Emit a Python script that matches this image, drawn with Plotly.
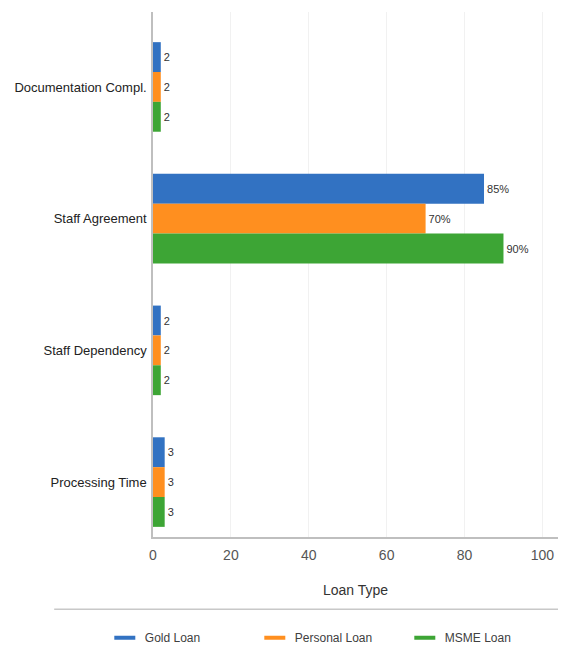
import plotly.graph_objects as go

# Survey factors (y categories, top to bottom) and loan-type series
categories = ["Documentation Compl.", "Staff Agreement", "Staff Dependency", "Processing Time"]
units = ["", "%", "", ""]
gold_loan = [2, 85, 2, 3]
personal_loan = [2, 70, 2, 3]
msme_loan = [2, 90, 2, 3]

series = [
    ("Gold Loan", gold_loan, "#3272C2"),
    ("Personal Loan", personal_loan, "#FF8F1F"),
    ("MSME Loan", msme_loan, "#3DA535"),
]

FONT = "Liberation Sans, Arial, sans-serif"

fig = go.Figure()
for name, vals, color in series:
    labels = [f"{v}{u}" for v, u in zip(vals, units)]
    fig.add_trace(go.Bar(
        name=name, y=categories, x=vals, orientation="h",
        marker=dict(color=color, line=dict(width=0)),
        text=labels, textposition="outside",
        textfont=dict(family=FONT, size=11, color="#333333"),
        cliponaxis=False, showlegend=False,
    ))
    # legend entry drawn as a short dash
    fig.add_trace(go.Scatter(
        name=name, x=[None], y=[None], mode="markers",
        marker=dict(symbol="line-ew", size=15, color=color,
                    line=dict(color=color, width=4)),
        showlegend=True, hoverinfo="skip",
    ))

fig.update_layout(
    width=561, height=663,
    margin=dict(l=153, r=3, t=12, b=126),
    paper_bgcolor="white", plot_bgcolor="white",
    barmode="group", bargap=0.32, bargroupgap=0,
    font=dict(family=FONT, color="#333333"),
    legend=dict(
        orientation="h", x=-0.119, xanchor="left", y=-0.192, yanchor="middle",
        entrywidth=105, entrywidthmode="pixels",
        font=dict(family=FONT, size=12, color="#404040"),
        itemclick=False,
    ),
    shapes=[dict(type="line", xref="paper", yref="paper",
                 x0=-0.244, x1=1.0, y0=-0.1375, y1=-0.1375,
                 line=dict(color="#c8c8c8", width=1.5))],
)

fig.update_xaxes(
    range=[0, 104], tickvals=[0, 20, 40, 60, 80, 100],
    showgrid=True, gridcolor="#f1f1f1", gridwidth=1,
    zeroline=False, showline=True, linecolor="#bfbfbf", linewidth=1.5,
    ticks="", tickfont=dict(family=FONT, size=14, color="#555555"),
    ticklabelstandoff=4, automargin=False,
    title=dict(text="Loan Type", standoff=24,
               font=dict(family=FONT, size=14, color="#333333")),
)
fig.update_yaxes(
    type="category", categoryorder="array", categoryarray=categories,
    range=[3.417, -0.569], automargin=False,
    showgrid=False, zeroline=False, showline=True,
    linecolor="#bfbfbf", linewidth=1.5, ticks="",
    tickfont=dict(family=FONT, size=13, color="#222222"),
    ticklabelstandoff=2,
)

fig.write_html("out.html")
